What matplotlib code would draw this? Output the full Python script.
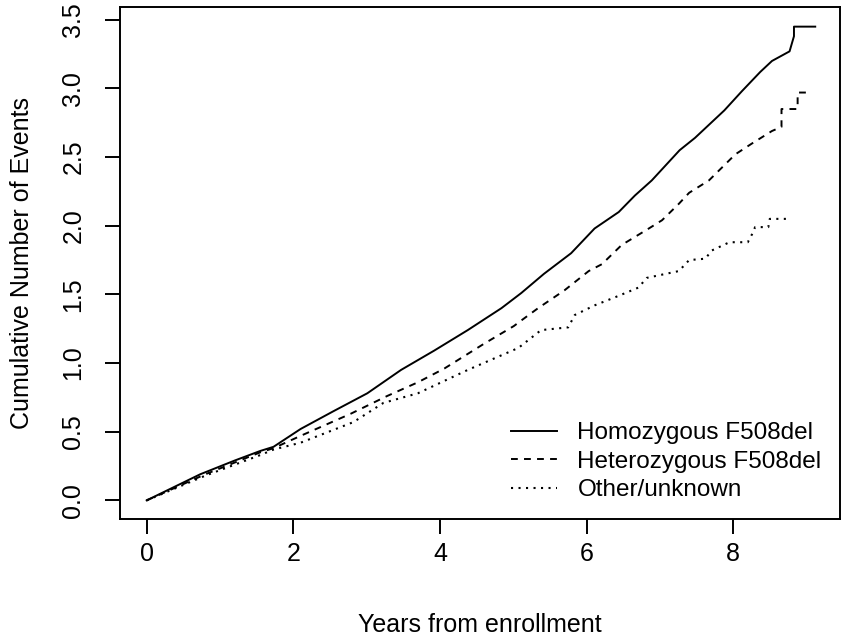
import matplotlib
matplotlib.use("Agg")
import matplotlib.pyplot as plt

plt.rcParams['font.family'] = ['Liberation Sans', 'DejaVu Sans']

labels = ["Homozygous F508del", "Heterozygous F508del", "Other/unknown"]

homo_t = [0, 0.73, 1.2, 1.55, 1.73, 2.10, 2.55, 3.01, 3.47, 3.92, 4.38, 4.84, 5.11, 5.42,
          5.79, 6.11, 6.44, 6.66, 6.89, 7.27, 7.48, 7.88, 8.12, 8.37, 8.53, 8.77, 8.83, 8.83, 9.12]
homo_v = [0, 0.19, 0.29, 0.36, 0.39, 0.52, 0.65, 0.78, 0.95, 1.09, 1.24, 1.40, 1.51, 1.65,
          1.80, 1.98, 2.10, 2.22, 2.33, 2.55, 2.64, 2.84, 2.98, 3.12, 3.20, 3.27, 3.38, 3.45, 3.45]

het_t = [0, 0.8, 1.55, 1.73, 2.10, 2.78, 3.28, 3.70, 4.06, 4.60, 5.01, 5.11, 5.34, 5.70,
         6.03, 6.21, 6.48, 6.85, 7.03, 7.26, 7.40, 7.67, 8.03, 8.26, 8.53, 8.66, 8.66, 8.88, 8.88, 9.04]
het_v = [0, 0.19, 0.35, 0.38, 0.47, 0.63, 0.76, 0.86, 0.96, 1.14, 1.27, 1.31, 1.40, 1.53,
         1.67, 1.72, 1.86, 1.98, 2.04, 2.16, 2.24, 2.33, 2.52, 2.60, 2.69, 2.72, 2.85, 2.85, 2.97, 2.97]

oth_t = [0, 0.8, 1.55, 1.73, 2.10, 2.82, 3.23, 3.70, 4.38, 5.07, 5.38, 5.75, 5.84, 6.11,
         6.44, 6.71, 6.82, 7.26, 7.40, 7.62, 7.71, 7.95, 8.20, 8.26, 8.30, 8.48, 8.50, 8.75]
oth_v = [0, 0.18, 0.33, 0.37, 0.42, 0.57, 0.71, 0.78, 0.95, 1.11, 1.24, 1.26, 1.35, 1.42,
         1.49, 1.55, 1.62, 1.67, 1.75, 1.76, 1.82, 1.88, 1.88, 1.94, 1.99, 1.99, 2.05, 2.05]

xticks = [0, 2, 4, 6, 8]
yticks = [0.0, 0.5, 1.0, 1.5, 2.0, 2.5, 3.0, 3.5]

W, H = 847, 639
fig = plt.figure(figsize=(W / 100, H / 100), dpi=100)
ax = fig.add_axes([120 / W, (H - 518.5) / H, 720 / W, (518.5 - 7) / H])

lw = 1.4
ax.plot(homo_t, homo_v, color='black', lw=lw, linestyle='-', label=labels[0])
ax.plot(het_t, het_v, color='black', lw=lw, linestyle=(0, (3.5, 3.2)), label=labels[1])
ax.plot(oth_t, oth_v, color='black', lw=1.5, linestyle=(0, (1, 2.6)), label=labels[2])

ax.set_xlim(-0.364, 9.458)
ax.set_ylim(-0.132, 3.593)
ax.set_xticks(xticks)
ax.set_xticklabels([str(v) for v in xticks])
ax.set_yticks(yticks)
ax.set_yticklabels([f"{v:.1f}" for v in yticks], rotation=90, va='center')

for s in ax.spines.values():
    s.set_linewidth(1.4)
ax.tick_params(axis='both', length=11, width=1.4, labelsize=18, direction='out')
ax.tick_params(axis='x', pad=6)
ax.tick_params(axis='y', pad=14)

ax.set_xlabel("Years from enrollment", fontsize=18, labelpad=34)
ax.set_ylabel("Cumulative Number of Events", fontsize=18, labelpad=20)

leg = ax.legend(loc='lower right', bbox_to_anchor=(0.998, 0.0), frameon=False, fontsize=17.5,
                handlelength=1.9, handletextpad=0.85, labelspacing=0.27, borderaxespad=0.3)

fig.savefig("out.png", dpi=100)
